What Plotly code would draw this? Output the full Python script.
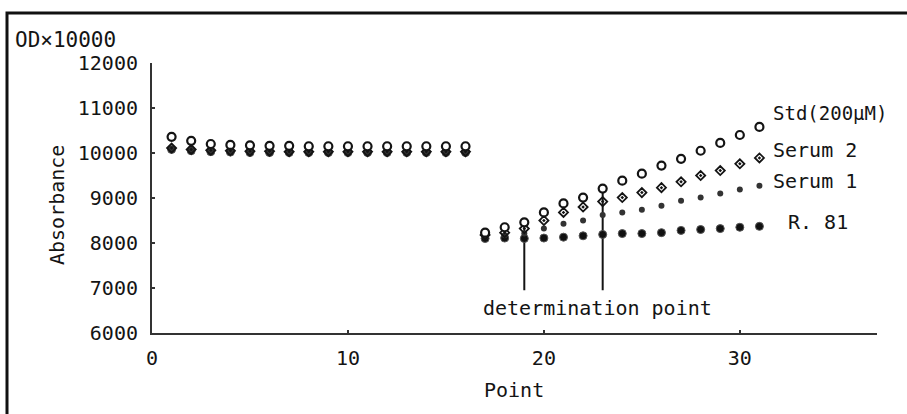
import plotly.graph_objects as go

# ---------------- data ----------------
points = list(range(1, 32))

std_200uM = [10360, 10270, 10200, 10180, 10170, 10160, 10160, 10150, 10150, 10150,
             10150, 10150, 10150, 10150, 10150, 10150,
             8230, 8350, 8460, 8680, 8880, 9010, 9210, 9385, 9540, 9720,
             9870, 10050, 10225, 10400, 10580]
serum_2 = [10110, 10080, 10060, 10050, 10040, 10040, 10030, 10030, 10030, 10030,
           10030, 10030, 10030, 10030, 10030, 10030,
           8180, 8230, 8320, 8500, 8680, 8800, 8920, 9010, 9120, 9230,
           9360, 9500, 9610, 9760, 9890]
serum_1 = [10090, 10060, 10040, 10030, 10020, 10020, 10020, 10020, 10020, 10020,
           10020, 10020, 10020, 10020, 10020, 10020,
           8140, 8170, 8210, 8320, 8430, 8500, 8620, 8680, 8740, 8830,
           8940, 9010, 9100, 9190, 9270]
r_81 = [10080, 10050, 10030, 10020, 10010, 10010, 10010, 10010, 10010, 10010,
        10010, 10010, 10010, 10010, 10010, 10010,
        8100, 8110, 8100, 8110, 8130, 8160, 8190, 8210, 8210, 8230,
        8280, 8300, 8320, 8350, 8370]

determination_points = [19, 23]
determination_bottom = 6950

y_ticks = [6000, 7000, 8000, 9000, 10000, 11000, 12000]
y_tick_labels = ["6000", "7000", "8000", "9000", "10000", "11000", "12000"]
x_ticks = [0, 10, 20, 30]
x_tick_labels = ["0", "10", "20", "30"]

# ---------------- layout helpers ----------------
W, H = 907, 414
L, R, T, B = 152, 877, 63, 333


def px(xp):
    return (xp - L) / (R - L)


def py(yp):
    return (B - yp) / (B - T)


FONT = "DejaVu Sans Mono, Liberation Mono, monospace"
INK = "#141414"

fig = go.Figure()

# determination lines
for dp in determination_points:
    top = std_200uM[points.index(dp)]
    fig.add_trace(go.Scatter(x=[dp, dp], y=[determination_bottom, top], mode="lines",
                             line=dict(color=INK, width=2), showlegend=False,
                             hoverinfo="skip"))

fig.add_trace(go.Scatter(x=points, y=r_81, mode="markers", name="R. 81",
                         marker=dict(symbol="circle", size=8, color="#111111",
                                     line=dict(color="#555555", width=1))))
fig.add_trace(go.Scatter(x=points, y=serum_1, mode="markers", name="Serum 1",
                         marker=dict(symbol="circle", size=6, color="#333333")))
fig.add_trace(go.Scatter(x=points, y=serum_2, mode="markers", name="Serum 2",
                         marker=dict(symbol="diamond-open-dot", size=7, color=INK,
                                     line=dict(color=INK, width=1.8))))
fig.add_trace(go.Scatter(x=points, y=std_200uM, mode="markers", name="Std(200μM)",
                         marker=dict(symbol="circle", size=8, color="white",
                                     line=dict(color=INK, width=2.2))))

annotations = [
    dict(text="OD×10000", x=px(13), y=py(40), xanchor="left", yanchor="middle", size=21),
    dict(text="Absorbance", x=px(57), y=py(205), xanchor="center", yanchor="middle",
         size=20, textangle=-90),
    dict(text="Point", x=px(514), y=py(390), xanchor="center", yanchor="middle", size=20),
    dict(text="determination point", x=px(597), y=py(308), xanchor="center",
         yanchor="middle", size=20),
    dict(text="Std(200μM)", x=px(771), y=py(113), xanchor="left", yanchor="middle", size=19),
    dict(text="Serum 2", x=px(771), y=py(150), xanchor="left", yanchor="middle", size=20),
    dict(text="Serum 1", x=px(771), y=py(181), xanchor="left", yanchor="middle", size=20),
    dict(text="R. 81", x=px(786), y=py(222), xanchor="left", yanchor="middle", size=20),
]
ann_objs = []
for a in annotations:
    d = dict(text=a["text"], x=a["x"], y=a["y"], xref="paper", yref="paper",
             xanchor=a["xanchor"], yanchor=a["yanchor"], showarrow=False,
             font=dict(family=FONT, size=a["size"], color=INK))
    if "textangle" in a:
        d["textangle"] = a["textangle"]
    ann_objs.append(d)

fig.update_layout(
    width=W, height=H,
    margin=dict(l=L, r=W - R, t=T, b=H - B, pad=0),
    paper_bgcolor="white", plot_bgcolor="white",
    showlegend=False,
    font=dict(family=FONT, size=20, color=INK),
    annotations=ann_objs,
    shapes=[dict(type="rect", xref="paper", yref="paper",
                 x0=px(7), x1=px(W + 10), y0=py(H + 10), y1=py(13),
                 line=dict(color="#111111", width=3), fillcolor="rgba(0,0,0,0)",
                 layer="above")],
)
fig.update_xaxes(range=[0, 37], tickvals=x_ticks, ticktext=x_tick_labels,
                 showgrid=False, zeroline=False,
                 showline=True, linecolor="#333333", linewidth=2,
                 ticks="inside", ticklen=3, tickwidth=2, tickcolor="#333333",
                 ticklabelstandoff=6, tickfont=dict(family=FONT, size=20, color=INK))
fig.update_yaxes(range=[6000, 12000], tickvals=y_ticks, ticktext=y_tick_labels,
                 showgrid=False, zeroline=False,
                 showline=True, linecolor="#333333", linewidth=2,
                 ticks="inside", ticklen=3, tickwidth=2, tickcolor="#333333",
                 ticklabelstandoff=8, tickfont=dict(family=FONT, size=20, color=INK))

fig.write_html("out.html", config={"displayModeBar": False},
               post_script="document.body.style.margin='0';document.body.style.overflow='hidden';")
